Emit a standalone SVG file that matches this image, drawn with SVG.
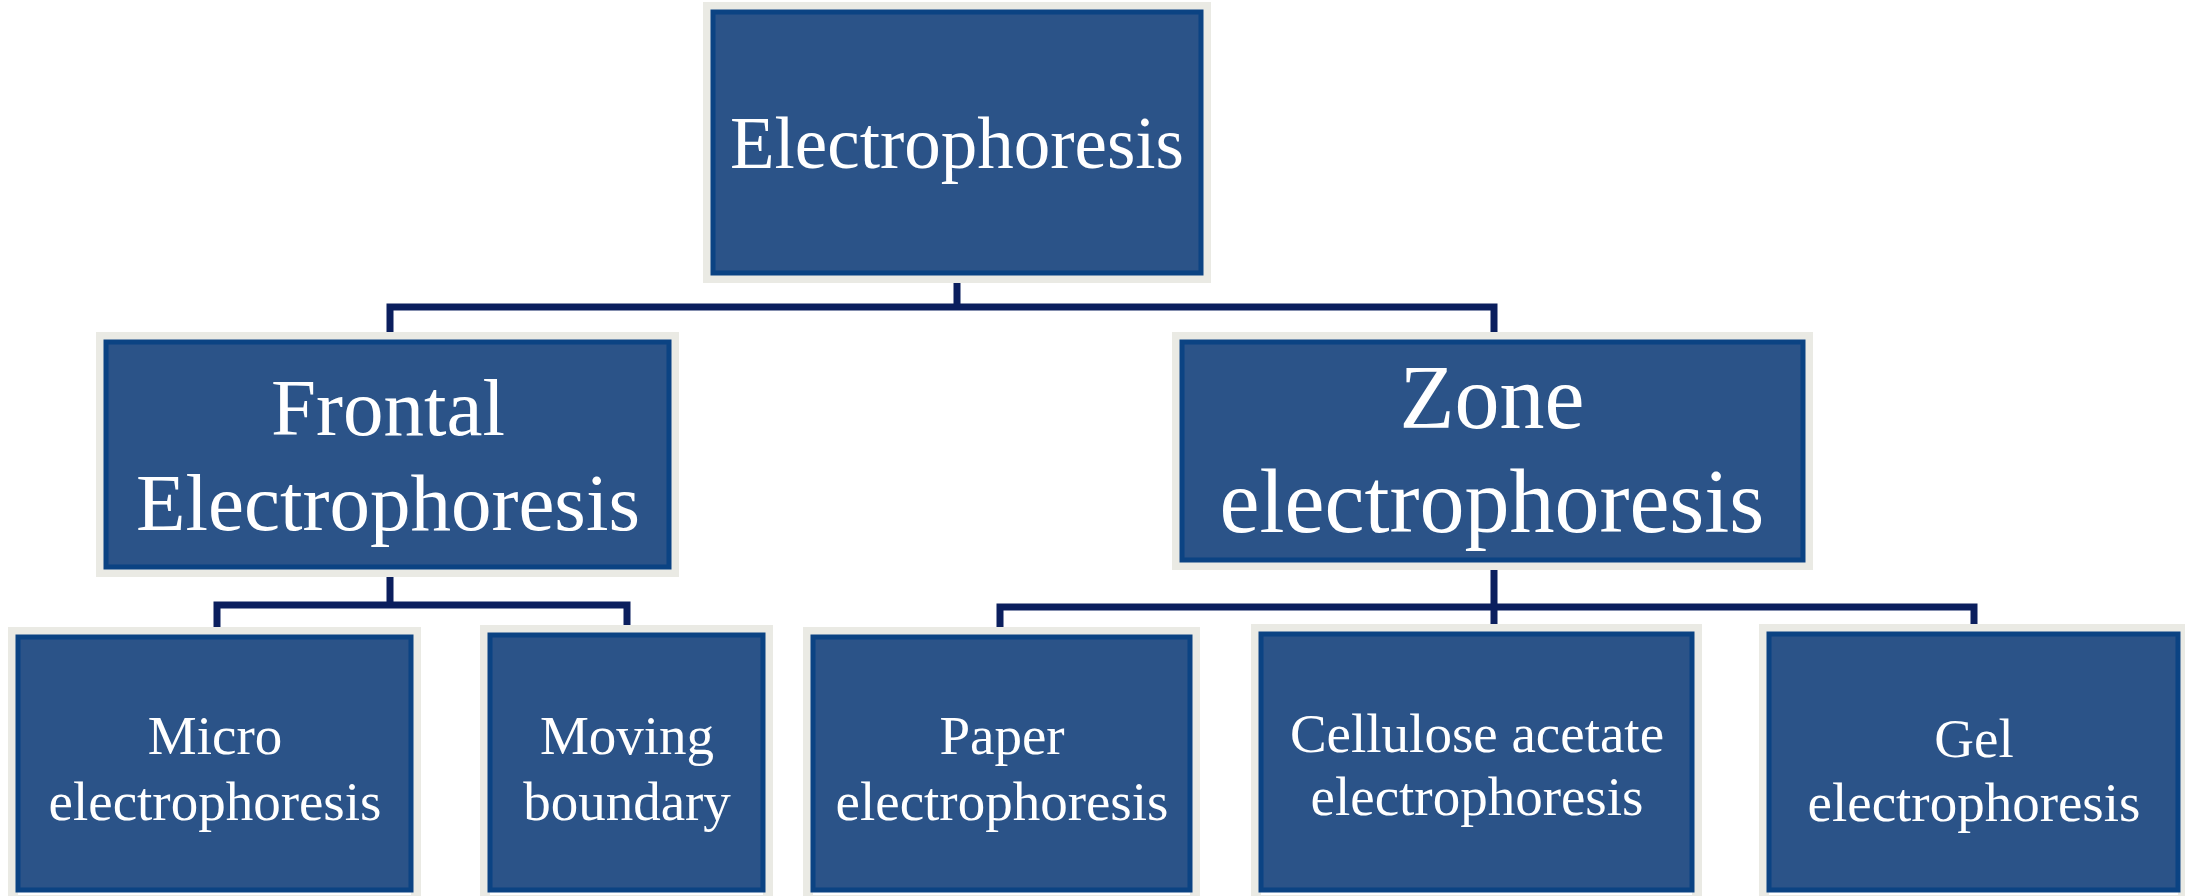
<svg xmlns="http://www.w3.org/2000/svg" width="2185" height="896" viewBox="0 0 2185 896">
<style>
.halo{fill:none;stroke:#eaeae4;stroke-width:10}
.box{fill:#2b5388;stroke:#0b4383;stroke-width:5}
.t{font-family:"Liberation Serif","Times New Roman",serif;fill:#ffffff;text-anchor:middle}
.c{fill:none;stroke:#0b1f5e;stroke-width:7;stroke-linecap:square}
</style>
<rect width="2185" height="896" fill="#ffffff"/>
<g id="connectors">
<path class="c" d="M957 273V307M390 307H1494M390 307V342M1494 307V342"/>
<path class="c" d="M390 567V605M217 605H627M217 605V637M627 605V635"/>
<path class="c" d="M1494 560V607M1000 607H1974M1000 607V637M1494 607V634M1974 607V634"/>
</g>
<g id="electrophoresis">
<rect class="halo" x="708" y="7" width="498" height="271"/>
<rect class="box" x="713" y="12" width="488" height="261"/>
<text class="t" x="957" y="168" font-size="73">Electrophoresis</text>
</g>
<g id="frontal">
<rect class="halo" x="101" y="337" width="573" height="235"/>
<rect class="box" x="106" y="342" width="563" height="225"/>
<text class="t" x="388" y="435" font-size="81">Frontal</text>
<text class="t" x="388" y="530" font-size="81">Electrophoresis</text>
</g>
<g id="zone">
<rect class="halo" x="1177" y="337" width="631" height="228"/>
<rect class="box" x="1182" y="342" width="621" height="218"/>
<text class="t" x="1492" y="428" font-size="90">Zone</text>
<text class="t" x="1492" y="532" font-size="90">electrophoresis</text>
</g>
<g id="micro">
<rect class="halo" x="13" y="632" width="403" height="268"/>
<rect class="box" x="18" y="637" width="393" height="253"/>
<text class="t" x="215" y="754" font-size="55">Micro</text>
<text class="t" x="215" y="820" font-size="55">electrophoresis</text>
</g>
<g id="moving">
<rect class="halo" x="485" y="630" width="283" height="270"/>
<rect class="box" x="490" y="635" width="273" height="255"/>
<text class="t" x="627" y="754" font-size="55">Moving</text>
<text class="t" x="627" y="820" font-size="55">boundary</text>
</g>
<g id="paper">
<rect class="halo" x="808" y="632" width="387" height="268"/>
<rect class="box" x="813" y="637" width="377" height="253"/>
<text class="t" x="1002" y="754" font-size="55">Paper</text>
<text class="t" x="1002" y="820" font-size="55">electrophoresis</text>
</g>
<g id="cellulose">
<rect class="halo" x="1256" y="629" width="441" height="271"/>
<rect class="box" x="1261" y="634" width="431" height="256"/>
<text class="t" x="1477" y="752" font-size="55">Cellulose acetate</text>
<text class="t" x="1477" y="815" font-size="55">electrophoresis</text>
</g>
<g id="gel">
<rect class="halo" x="1764" y="629" width="419" height="271"/>
<rect class="box" x="1769" y="634" width="409" height="256"/>
<text class="t" x="1974" y="757" font-size="55">Gel</text>
<text class="t" x="1974" y="821" font-size="55">electrophoresis</text>
</g>
</svg>
